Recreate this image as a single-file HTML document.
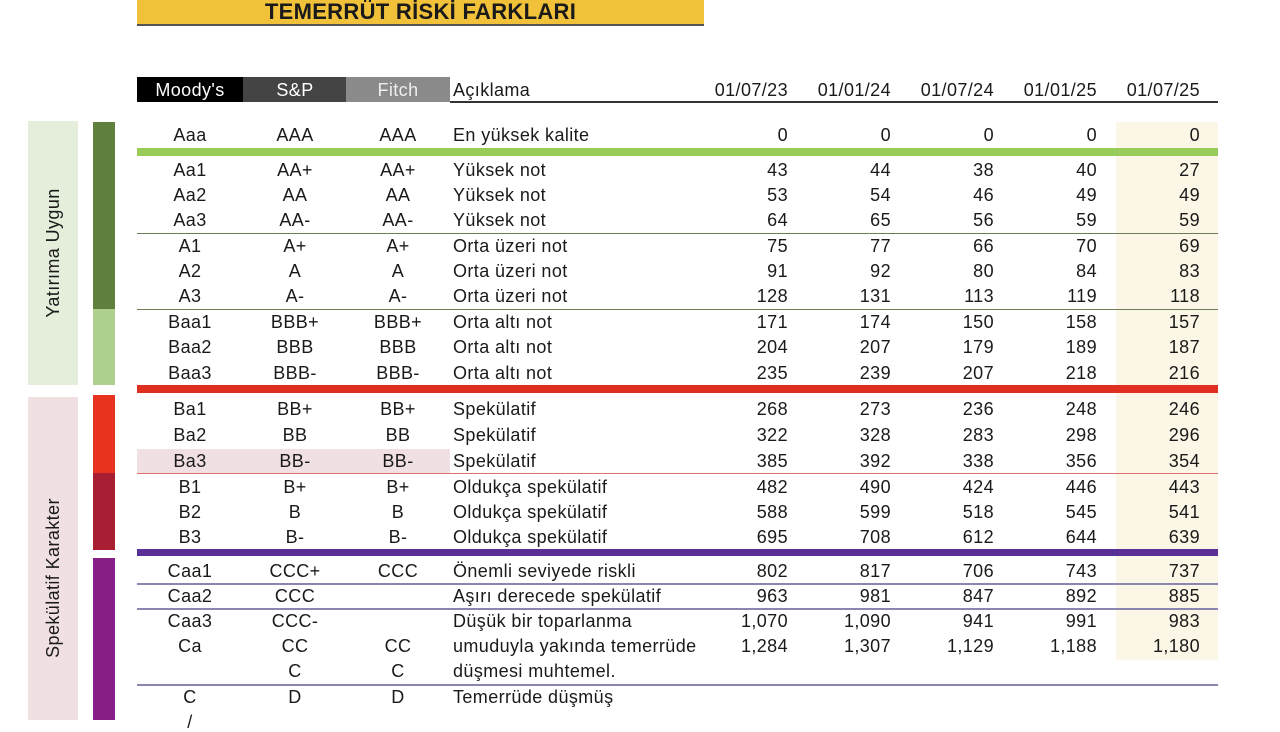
<!DOCTYPE html>
<html><head><meta charset="utf-8"><style>
body{margin:0;width:1280px;height:720px;background:#fff;position:relative;overflow:hidden;font-family:"Liberation Sans",Arial,sans-serif;color:#1a1a1a}
div{position:absolute}
.t{font-size:18px;line-height:20px;white-space:nowrap;letter-spacing:0.4px}
.c{text-align:center;width:100px}
.r{text-align:right;width:90px}
</style></head><body>
<div style="left:137px;top:0;width:567px;height:24px;background:#f2c13a;border-bottom:2px solid #555"></div>
<div class="t" style="left:137px;top:2px;width:567px;text-align:center;font-weight:bold;font-size:22px;letter-spacing:0.3px">TEMERRÜT RİSKİ FARKLARI</div>

<div style="left:137px;top:77px;width:106px;height:25px;background:#000"></div>
<div style="left:243px;top:77px;width:103px;height:25px;background:#444"></div>
<div style="left:346px;top:77px;width:104px;height:25px;background:#8a8a8a"></div>
<div style="left:450px;top:101px;width:768px;height:2px;background:#333"></div>
<div class="t c" style="left:140px;top:80px;color:#fff">Moody's</div>
<div class="t c" style="left:245px;top:80px;color:#fff">S&amp;P</div>
<div class="t c" style="left:348px;top:80px;color:#eee">Fitch</div>
<div class="t" style="left:453px;top:80px">Açıklama</div>
<div class="t r" style="left:698px;top:80px">01/07/23</div>
<div class="t r" style="left:801px;top:80px">01/01/24</div>
<div class="t r" style="left:904px;top:80px">01/07/24</div>
<div class="t r" style="left:1007px;top:80px">01/01/25</div>
<div class="t r" style="left:1110px;top:80px">01/07/25</div>

<div style="left:28px;top:121px;width:50px;height:264px;background:#e4eedb"></div>
<div style="left:28px;top:397px;width:50px;height:323px;background:#f0e0e1"></div>
<div class="t" style="left:-47px;top:243px;width:200px;text-align:center;transform:rotate(-90deg)">Yatırıma Uygun</div>
<div class="t" style="left:-47px;top:568px;width:200px;text-align:center;transform:rotate(-90deg)">Spekülatif Karakter</div>
<div style="left:93px;top:122px;width:22px;height:187px;background:#5f7f3c"></div>
<div style="left:93px;top:309px;width:22px;height:76px;background:#aed08e"></div>
<div style="left:93px;top:395px;width:22px;height:78px;background:#e8341f"></div>
<div style="left:93px;top:473px;width:22px;height:77px;background:#a81e33"></div>
<div style="left:93px;top:558px;width:22px;height:162px;background:#871d86"></div>

<div style="left:1116px;top:122px;width:102px;height:538px;background:#fbf6e5"></div>
<div style="left:137px;top:449px;width:313px;height:24px;background:#f0e0e1"></div>

<div style="left:137px;top:148px;width:1081px;height:8px;background:#97cc58"></div>
<div style="left:137px;top:233px;width:1081px;height:1px;background:#6b7d55"></div>
<div style="left:137px;top:309px;width:1081px;height:1px;background:#6b7d55"></div>
<div style="left:137px;top:385px;width:1081px;height:8px;background:#e02f20"></div>
<div style="left:137px;top:473px;width:1081px;height:1px;background:#e07070"></div>
<div style="left:137px;top:549px;width:1081px;height:7px;background:#5a2f96"></div>
<div style="left:137px;top:583px;width:1081px;height:2px;background:#8a86b0"></div>
<div style="left:137px;top:608px;width:1081px;height:2px;background:#8a86b0"></div>
<div style="left:137px;top:684px;width:1081px;height:2px;background:#8a86b0"></div>

<div class="t c" style="left:140px;top:125px">Aaa</div><div class="t c" style="left:245px;top:125px">AAA</div><div class="t c" style="left:348px;top:125px">AAA</div><div class="t" style="left:453px;top:125px">En yüksek kalite</div><div class="t r" style="left:698px;top:125px">0</div><div class="t r" style="left:801px;top:125px">0</div><div class="t r" style="left:904px;top:125px">0</div><div class="t r" style="left:1007px;top:125px">0</div><div class="t r" style="left:1110px;top:125px">0</div>

<div class="t c" style="left:140px;top:160px">Aa1</div><div class="t c" style="left:245px;top:160px">AA+</div><div class="t c" style="left:348px;top:160px">AA+</div><div class="t" style="left:453px;top:160px">Yüksek not</div><div class="t r" style="left:698px;top:160px">43</div><div class="t r" style="left:801px;top:160px">44</div><div class="t r" style="left:904px;top:160px">38</div><div class="t r" style="left:1007px;top:160px">40</div><div class="t r" style="left:1110px;top:160px">27</div>

<div class="t c" style="left:140px;top:185px">Aa2</div><div class="t c" style="left:245px;top:185px">AA</div><div class="t c" style="left:348px;top:185px">AA</div><div class="t" style="left:453px;top:185px">Yüksek not</div><div class="t r" style="left:698px;top:185px">53</div><div class="t r" style="left:801px;top:185px">54</div><div class="t r" style="left:904px;top:185px">46</div><div class="t r" style="left:1007px;top:185px">49</div><div class="t r" style="left:1110px;top:185px">49</div>

<div class="t c" style="left:140px;top:210px">Aa3</div><div class="t c" style="left:245px;top:210px">AA-</div><div class="t c" style="left:348px;top:210px">AA-</div><div class="t" style="left:453px;top:210px">Yüksek not</div><div class="t r" style="left:698px;top:210px">64</div><div class="t r" style="left:801px;top:210px">65</div><div class="t r" style="left:904px;top:210px">56</div><div class="t r" style="left:1007px;top:210px">59</div><div class="t r" style="left:1110px;top:210px">59</div>

<div class="t c" style="left:140px;top:236px">A1</div><div class="t c" style="left:245px;top:236px">A+</div><div class="t c" style="left:348px;top:236px">A+</div><div class="t" style="left:453px;top:236px">Orta üzeri not</div><div class="t r" style="left:698px;top:236px">75</div><div class="t r" style="left:801px;top:236px">77</div><div class="t r" style="left:904px;top:236px">66</div><div class="t r" style="left:1007px;top:236px">70</div><div class="t r" style="left:1110px;top:236px">69</div>

<div class="t c" style="left:140px;top:261px">A2</div><div class="t c" style="left:245px;top:261px">A</div><div class="t c" style="left:348px;top:261px">A</div><div class="t" style="left:453px;top:261px">Orta üzeri not</div><div class="t r" style="left:698px;top:261px">91</div><div class="t r" style="left:801px;top:261px">92</div><div class="t r" style="left:904px;top:261px">80</div><div class="t r" style="left:1007px;top:261px">84</div><div class="t r" style="left:1110px;top:261px">83</div>

<div class="t c" style="left:140px;top:286px">A3</div><div class="t c" style="left:245px;top:286px">A-</div><div class="t c" style="left:348px;top:286px">A-</div><div class="t" style="left:453px;top:286px">Orta üzeri not</div><div class="t r" style="left:698px;top:286px">128</div><div class="t r" style="left:801px;top:286px">131</div><div class="t r" style="left:904px;top:286px">113</div><div class="t r" style="left:1007px;top:286px">119</div><div class="t r" style="left:1110px;top:286px">118</div>

<div class="t c" style="left:140px;top:312px">Baa1</div><div class="t c" style="left:245px;top:312px">BBB+</div><div class="t c" style="left:348px;top:312px">BBB+</div><div class="t" style="left:453px;top:312px">Orta altı not</div><div class="t r" style="left:698px;top:312px">171</div><div class="t r" style="left:801px;top:312px">174</div><div class="t r" style="left:904px;top:312px">150</div><div class="t r" style="left:1007px;top:312px">158</div><div class="t r" style="left:1110px;top:312px">157</div>

<div class="t c" style="left:140px;top:337px">Baa2</div><div class="t c" style="left:245px;top:337px">BBB</div><div class="t c" style="left:348px;top:337px">BBB</div><div class="t" style="left:453px;top:337px">Orta altı not</div><div class="t r" style="left:698px;top:337px">204</div><div class="t r" style="left:801px;top:337px">207</div><div class="t r" style="left:904px;top:337px">179</div><div class="t r" style="left:1007px;top:337px">189</div><div class="t r" style="left:1110px;top:337px">187</div>

<div class="t c" style="left:140px;top:363px">Baa3</div><div class="t c" style="left:245px;top:363px">BBB-</div><div class="t c" style="left:348px;top:363px">BBB-</div><div class="t" style="left:453px;top:363px">Orta altı not</div><div class="t r" style="left:698px;top:363px">235</div><div class="t r" style="left:801px;top:363px">239</div><div class="t r" style="left:904px;top:363px">207</div><div class="t r" style="left:1007px;top:363px">218</div><div class="t r" style="left:1110px;top:363px">216</div>

<div class="t c" style="left:140px;top:399px">Ba1</div><div class="t c" style="left:245px;top:399px">BB+</div><div class="t c" style="left:348px;top:399px">BB+</div><div class="t" style="left:453px;top:399px">Spekülatif</div><div class="t r" style="left:698px;top:399px">268</div><div class="t r" style="left:801px;top:399px">273</div><div class="t r" style="left:904px;top:399px">236</div><div class="t r" style="left:1007px;top:399px">248</div><div class="t r" style="left:1110px;top:399px">246</div>

<div class="t c" style="left:140px;top:425px">Ba2</div><div class="t c" style="left:245px;top:425px">BB</div><div class="t c" style="left:348px;top:425px">BB</div><div class="t" style="left:453px;top:425px">Spekülatif</div><div class="t r" style="left:698px;top:425px">322</div><div class="t r" style="left:801px;top:425px">328</div><div class="t r" style="left:904px;top:425px">283</div><div class="t r" style="left:1007px;top:425px">298</div><div class="t r" style="left:1110px;top:425px">296</div>

<div class="t c" style="left:140px;top:451px">Ba3</div><div class="t c" style="left:245px;top:451px">BB-</div><div class="t c" style="left:348px;top:451px">BB-</div><div class="t" style="left:453px;top:451px">Spekülatif</div><div class="t r" style="left:698px;top:451px">385</div><div class="t r" style="left:801px;top:451px">392</div><div class="t r" style="left:904px;top:451px">338</div><div class="t r" style="left:1007px;top:451px">356</div><div class="t r" style="left:1110px;top:451px">354</div>

<div class="t c" style="left:140px;top:477px">B1</div><div class="t c" style="left:245px;top:477px">B+</div><div class="t c" style="left:348px;top:477px">B+</div><div class="t" style="left:453px;top:477px">Oldukça spekülatif</div><div class="t r" style="left:698px;top:477px">482</div><div class="t r" style="left:801px;top:477px">490</div><div class="t r" style="left:904px;top:477px">424</div><div class="t r" style="left:1007px;top:477px">446</div><div class="t r" style="left:1110px;top:477px">443</div>

<div class="t c" style="left:140px;top:502px">B2</div><div class="t c" style="left:245px;top:502px">B</div><div class="t c" style="left:348px;top:502px">B</div><div class="t" style="left:453px;top:502px">Oldukça spekülatif</div><div class="t r" style="left:698px;top:502px">588</div><div class="t r" style="left:801px;top:502px">599</div><div class="t r" style="left:904px;top:502px">518</div><div class="t r" style="left:1007px;top:502px">545</div><div class="t r" style="left:1110px;top:502px">541</div>

<div class="t c" style="left:140px;top:527px">B3</div><div class="t c" style="left:245px;top:527px">B-</div><div class="t c" style="left:348px;top:527px">B-</div><div class="t" style="left:453px;top:527px">Oldukça spekülatif</div><div class="t r" style="left:698px;top:527px">695</div><div class="t r" style="left:801px;top:527px">708</div><div class="t r" style="left:904px;top:527px">612</div><div class="t r" style="left:1007px;top:527px">644</div><div class="t r" style="left:1110px;top:527px">639</div>

<div class="t c" style="left:140px;top:561px">Caa1</div><div class="t c" style="left:245px;top:561px">CCC+</div><div class="t c" style="left:348px;top:561px">CCC</div><div class="t" style="left:453px;top:561px">Önemli seviyede riskli</div><div class="t r" style="left:698px;top:561px">802</div><div class="t r" style="left:801px;top:561px">817</div><div class="t r" style="left:904px;top:561px">706</div><div class="t r" style="left:1007px;top:561px">743</div><div class="t r" style="left:1110px;top:561px">737</div>

<div class="t c" style="left:140px;top:586px">Caa2</div><div class="t c" style="left:245px;top:586px">CCC</div><div class="t" style="left:453px;top:586px">Aşırı derecede spekülatif</div><div class="t r" style="left:698px;top:586px">963</div><div class="t r" style="left:801px;top:586px">981</div><div class="t r" style="left:904px;top:586px">847</div><div class="t r" style="left:1007px;top:586px">892</div><div class="t r" style="left:1110px;top:586px">885</div>

<div class="t c" style="left:140px;top:611px">Caa3</div><div class="t c" style="left:245px;top:611px">CCC-</div><div class="t" style="left:453px;top:611px">Düşük bir toparlanma</div><div class="t r" style="left:698px;top:611px">1,070</div><div class="t r" style="left:801px;top:611px">1,090</div><div class="t r" style="left:904px;top:611px">941</div><div class="t r" style="left:1007px;top:611px">991</div><div class="t r" style="left:1110px;top:611px">983</div>

<div class="t c" style="left:140px;top:636px">Ca</div><div class="t c" style="left:245px;top:636px">CC</div><div class="t c" style="left:348px;top:636px">CC</div><div class="t" style="left:453px;top:636px">umuduyla yakında temerrüde</div><div class="t r" style="left:698px;top:636px">1,284</div><div class="t r" style="left:801px;top:636px">1,307</div><div class="t r" style="left:904px;top:636px">1,129</div><div class="t r" style="left:1007px;top:636px">1,188</div><div class="t r" style="left:1110px;top:636px">1,180</div>

<div class="t c" style="left:245px;top:661px">C</div><div class="t c" style="left:348px;top:661px">C</div><div class="t" style="left:453px;top:661px">düşmesi muhtemel.</div>

<div class="t c" style="left:140px;top:687px">C</div><div class="t c" style="left:245px;top:687px">D</div><div class="t c" style="left:348px;top:687px">D</div><div class="t" style="left:453px;top:687px">Temerrüde düşmüş</div>
<div class="t c" style="left:140px;top:712px">/</div>
</body></html>
